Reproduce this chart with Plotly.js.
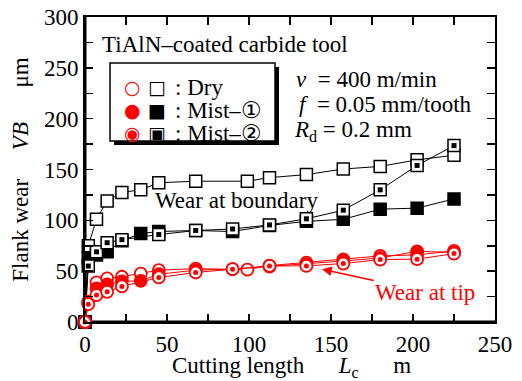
<!DOCTYPE html>
<html><head><meta charset="utf-8">
<script src="https://cdn.plot.ly/plotly-3.0.1.min.js"></script>
<style>html,body{margin:0;padding:0;background:#fff}</style>
</head><body><div id="chart" style="width:522px;height:381px"></div>
<script>
// Boundary wear (black squares)
const bndDryX=[0,2,7,13.5,22.5,34,45,67.5,99,112.5,135,157.5,180,202.5,225];
const bndDryY=[0,75,101,119,127.5,130,137,138.5,138.5,142,145,150.5,153,159.5,164];
const bndM1X=[0,2,7,13.5,22.5,34,45,67.5,90,112.5,135,157.5,180,202.5,225];
const bndM1Y=[0,63,66,69,80,87,89,90,89,95,99,101,111,112,121];
const bndM2X=[0,2,7,13.5,22.5,45,67.5,90,112.5,135,157.5,180,202.5,225];
const bndM2Y=[0,55,69,78,81,86,90,91.5,95.5,101.5,110,130,154,173.5];
// Tip wear (red circles)
const tipDryX=[0,2,7,13.5,22.5,34,45,67.5,99,112.5,135,157.5,180,202.5,225];
const tipDryY=[0,20,39,43,44.5,47.5,51,52.5,51.5,55.5,58.5,61.5,65,66,70];
const tipM1X=[0,2,7,13.5,22.5,34,45,67.5,90,112.5,135,157.5,180,202.5,225];
const tipM1Y=[0,19,33,37,40,40.5,47,51,52,54.5,57,60,63,69.5,68.5];
const tipM2X=[0,2,7,13.5,22.5,45,67.5,90,112.5,135,157.5,180,202.5,225];
const tipM2Y=[0,17.5,26.5,29.7,35,43.8,48.7,52,55.2,55.2,57.5,61.4,61.8,67.3];
// Ticks
const xTickVals=[0,25,50,75,100,125,150,175,200,225,250];
const xTickText=['0','','50','','100','','150','','200','','250'];
const yTickVals=[0,25,50,75,100,125,150,175,200,225,250,275,300];
const yTickText=['0','','50','','100','','150','','200','','250','','300'];
// Legend labels
const legendLabels=[': Dry',': Mist\u2013\u2460',': Mist\u2013\u2461'];

const FONT='Liberation Serif, Times New Roman, serif';
const RED='#ff0000';
const sqSize=12, ciSize=12;

function bnd(x,y,fill){
  return {x:x,y:y,type:'scatter',mode:'lines+markers',cliponaxis:false,
    line:{color:'#000',width:1},
    marker:{symbol:'square',size:sqSize,color:fill,line:{color:'#000',width:1.5}}};
}
function tip(x,y,fill){
  return {x:x,y:y,type:'scatter',mode:'lines+markers',cliponaxis:false,
    line:{color:RED,width:1},
    marker:{symbol:'circle',size:ciSize,color:fill,line:{color:RED,width:1.8}}};
}
const traces=[
  bnd(bndDryX,bndDryY,'#fff'),
  bnd(bndM1X,bndM1Y,'#000'),
  bnd(bndM2X,bndM2Y,'#fff'),
  {x:bndM2X,y:bndM2Y,type:'scatter',mode:'markers',cliponaxis:false,
   marker:{symbol:'square',size:5,color:'#000',line:{width:0}}},
  tip(tipDryX,tipDryY,'#fff'),
  tip(tipM1X,tipM1Y,RED),
  tip(tipM2X,tipM2Y,'#fff'),
  {x:tipM2X,y:tipM2Y,type:'scatter',mode:'markers',cliponaxis:false,
   marker:{symbol:'circle',size:5,color:RED,line:{width:0}}}
];

// pixel -> paper helpers (plot area: x 85..495, y 17..322)
const L=85,R=495,T=17,B=322;
const px=v=>(v-L)/(R-L), py=v=>(B-v)/(B-T);

const nb='\u00a0';
const ann=[];
ann.push({xref:'paper',yref:'paper',x:px(100),y:py(44),xanchor:'left',yanchor:'middle',
  text:'TiAlN\u2013coated carbide tool',showarrow:false,font:{family:FONT,size:23,color:'#000'}});
const rowsY=[87,110,133];
const circ=['\u25CB','\u25CF','\u25C9'];
const sq=['\u25A1','\u25A0','\u25A3'];
for(let i=0;i<3;i++){
  ann.push({xref:'paper',yref:'paper',x:px(132),y:py(rowsY[i]),xanchor:'center',yanchor:'middle',
    text:circ[i],showarrow:false,font:{family:'DejaVu Sans',size:19,color:RED}});
  ann.push({xref:'paper',yref:'paper',x:px(157),y:py(rowsY[i]),xanchor:'center',yanchor:'middle',
    text:sq[i],showarrow:false,font:{family:'DejaVu Sans',size:19,color:'#000'}});
  ann.push({xref:'paper',yref:'paper',x:px(173),y:py(rowsY[i]),xanchor:'left',yanchor:'middle',
    text:legendLabels[i],showarrow:false,font:{family:FONT,size:23,color:'#000'}});
}
ann.push({xref:'paper',yref:'paper',x:px(294),y:py(79),xanchor:'left',yanchor:'middle',
  text:'<i>v</i>'+nb+nb+'= 400 m/min',showarrow:false,font:{family:FONT,size:23,color:'#000'}});
ann.push({xref:'paper',yref:'paper',x:px(297),y:py(104),xanchor:'left',yanchor:'middle',
  text:'<i>f</i>'+nb+' = 0.05 mm/tooth',showarrow:false,font:{family:FONT,size:23,color:'#000'}});
ann.push({xref:'paper',yref:'paper',x:px(292),y:py(131),xanchor:'left',yanchor:'middle',
  text:'<i>R</i><sub>d</sub> = 0.2 mm',showarrow:false,font:{family:FONT,size:23,color:'#000'}});
ann.push({xref:'paper',yref:'paper',x:px(153),y:py(200),xanchor:'left',yanchor:'middle',
  text:'Wear at boundary',showarrow:false,font:{family:FONT,size:23,color:'#000'}});
ann.push({xref:'x',yref:'y',x:144.5,y:52,axref:'x',ayref:'y',ax:207.5,ay:29.5,
  text:'Wear at tip',showarrow:true,arrowhead:2,arrowsize:1.3,arrowwidth:1.5,arrowcolor:RED,
  font:{family:FONT,size:23,color:RED}});
// x-axis title
ann.push({xref:'paper',yref:'paper',x:px(291),y:py(367),xanchor:'center',yanchor:'middle',
  text:'Cutting length'+nb.repeat(6)+'<i>L</i><sub>c</sub>'+nb.repeat(6)+'m',showarrow:false,
  font:{family:FONT,size:23,color:'#000'}});

const shapes=[
  {type:'rect',xref:'paper',yref:'paper',x0:px(114),x1:px(279),y0:py(67),y1:py(145),
   fillcolor:'#000',line:{width:0},layer:'above'},
  {type:'rect',xref:'paper',yref:'paper',x0:px(110),x1:px(275),y0:py(63),y1:py(141),
   fillcolor:'#fff',line:{color:'#000',width:1.5},layer:'above'},
  {type:'line',xref:'paper',yref:'paper',x0:0,x1:0,y0:0,y1:1,line:{color:'#000',width:3},layer:'below'},
  {type:'line',xref:'paper',yref:'paper',x0:0,x1:1,y0:0,y1:0,line:{color:'#000',width:3},layer:'below'}
];

const axisCommon={showgrid:false,zeroline:false,showline:true,linecolor:'#000',linewidth:2,
  mirror:'allticks',ticks:'inside',ticklen:8,tickwidth:1.5,tickcolor:'#000',
  tickfont:{family:FONT,size:23,color:'#000'},tickmode:'array'};

const layout={
  width:522,height:381,margin:{l:85,r:27,t:17,b:59},
  paper_bgcolor:'#fff',plot_bgcolor:'#fff',showlegend:false,
  xaxis:Object.assign({},axisCommon,{range:[0,250],tickvals:xTickVals,ticktext:xTickText}),
  yaxis:Object.assign({},axisCommon,{range:[0,300],tickvals:yTickVals,ticktext:yTickText,
    title:{text:'Flank wear'+nb.repeat(5)+'<i>VB</i>'+nb.repeat(6)+'\u03bcm',
      font:{family:FONT,size:23,color:'#000'}}}),
  annotations:ann,shapes:shapes
};
Plotly.newPlot('chart',traces,layout,{staticPlot:true,displayModeBar:false});
</script></body></html>
